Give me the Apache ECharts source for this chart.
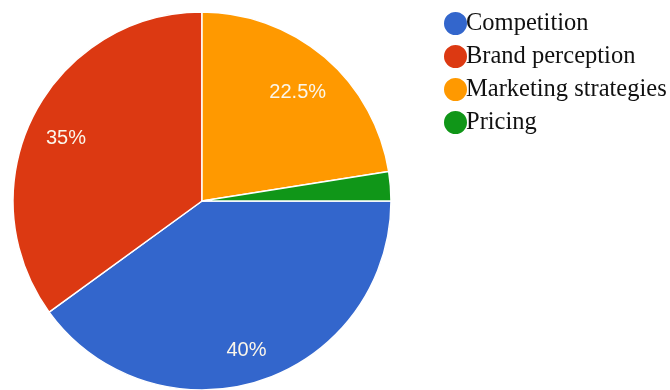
<!DOCTYPE html>
<html>
<head>
<meta charset="utf-8">
<script src="https://cdn.jsdelivr.net/npm/echarts@6/dist/echarts.min.js"></script>
<style>
  html, body { margin: 0; padding: 0; background: #ffffff; }
  #chart { width: 670px; height: 390px; }
</style>
</head>
<body>
<div id="chart"></div>
<script>
// Share of each factor, in percent
const categories = ['Competition', 'Brand perception', 'Marketing strategies', 'Pricing'];
const shares = [40, 35, 22.5, 2.5];
const colors = ['#3366CC', '#DC3912', '#FF9900', '#109618'];

// Slices smaller than this get no value label
const labelMinShare = 5;

const pieData = categories.map((name, i) => ({
  name: name,
  value: shares[i],
  itemStyle: { color: colors[i] }
}));

const center = [202, 201];
const outerRadius = 189;

const chart = echarts.init(document.getElementById('chart'), null, { renderer: 'canvas' });
chart.setOption({
  animation: false,
  backgroundColor: '#ffffff',
  legend: {
    orient: 'vertical',
    left: 437,
    top: 5,
    padding: 5,
    icon: 'circle',
    itemWidth: 25,
    itemHeight: 25,
    itemGap: 6,
    selectedMode: false,
    data: categories,
    textStyle: {
      fontFamily: '"Liberation Serif", "Times New Roman", serif',
      fontSize: 24.5,
      lineHeight: 25,
      color: '#111111',
      padding: [0, 0, 0, -7]
    }
  },
  series: [
    {
      // filled slices
      type: 'pie',
      center: center,
      radius: outerRadius,
      startAngle: 0,
      clockwise: true,
      silent: true,
      label: { show: false },
      labelLine: { show: false },
      itemStyle: { borderColor: '#ffffff', borderWidth: 1.5 },
      data: pieData
    },
    {
      // transparent ring carrying the percentage labels
      type: 'pie',
      center: center,
      radius: [outerRadius * 0.56, outerRadius],
      startAngle: 0,
      clockwise: true,
      silent: true,
      legendHoverLink: false,
      itemStyle: { color: 'rgba(0,0,0,0)', borderWidth: 0 },
      labelLine: { show: false },
      label: {
        show: true,
        position: 'inside',
        offset: [-2, 6],
        fontFamily: '"Liberation Sans", Arial, sans-serif',
        fontSize: 20,
        color: '#fbf6ea',
        formatter: p => (p.value >= labelMinShare ? p.value + '%' : '')
      },
      data: categories.map((name, i) => ({ name: name + ' ', value: shares[i] }))
    }
  ]
});
</script>
</body>
</html>
